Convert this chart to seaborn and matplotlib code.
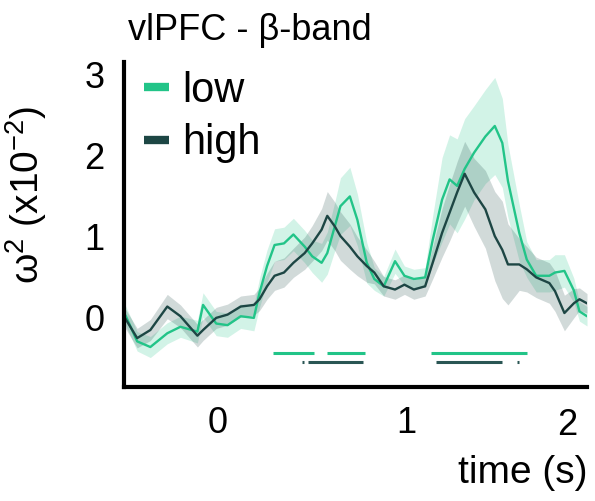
import numpy as np
import pandas as pd
import matplotlib
matplotlib.use("Agg")
import matplotlib.pyplot as plt
import seaborn as sns
from matplotlib.lines import Line2D

# ---- data ----
time = [-0.50, -0.49, -0.43, -0.36, -0.27, -0.20, -0.11, -0.08, -0.01, 0.05,
        0.12, 0.19, 0.22, 0.26, 0.30, 0.35, 0.40, 0.46, 0.50, 0.55,
        0.58, 0.62, 0.65, 0.70, 0.74, 0.79, 0.83, 0.88, 0.94, 0.99,
        1.04, 1.10, 1.14, 1.19, 1.23, 1.27, 1.31, 1.36, 1.42, 1.47,
        1.51, 1.54, 1.60, 1.64, 1.69, 1.76, 1.79, 1.84, 1.89, 1.92, 1.96]

low_mean = [0.06, 0.02, -0.29, -0.36, -0.19, -0.11, -0.17, 0.16, -0.07, -0.09,
            0.02, 0.00, 0.31, 0.64, 0.90, 0.92, 1.03, 0.88, 0.76, 0.68,
            0.80, 1.13, 1.38, 1.50, 1.21, 0.68, 0.48, 0.39, 0.70, 0.52,
            0.48, 0.50, 0.96, 1.46, 1.71, 1.63, 1.84, 2.04, 2.24, 2.37,
            2.16, 1.69, 1.05, 0.72, 0.52, 0.52, 0.56, 0.58, 0.34, 0.08, 0.02]

high_mean = [0.02, -0.02, -0.25, -0.15, 0.14, 0.02, -0.22, -0.15, 0.00, 0.04,
             0.14, 0.16, 0.23, 0.39, 0.52, 0.56, 0.68, 0.80, 0.92, 1.09,
             1.26, 1.13, 1.01, 0.88, 0.76, 0.64, 0.56, 0.39, 0.35, 0.41,
             0.35, 0.39, 0.68, 1.05, 1.30, 1.55, 1.78, 1.55, 1.34, 1.01,
             0.84, 0.66, 0.66, 0.60, 0.50, 0.43, 0.33, 0.06, 0.18, 0.23, 0.18]

low_err = [0.12, 0.12, 0.12, 0.13, 0.13, 0.13, 0.14, 0.15, 0.15, 0.15,
           0.15, 0.16, 0.18, 0.20, 0.20, 0.20, 0.20, 0.20, 0.20, 0.24,
           0.26, 0.30, 0.35, 0.36, 0.32, 0.25, 0.14, 0.12, 0.15, 0.12,
           0.12, 0.12, 0.30, 0.52, 0.55, 0.58, 0.62, 0.58, 0.58, 0.60,
           0.55, 0.45, 0.35, 0.22, 0.20, 0.20, 0.22, 0.20, 0.15, 0.12, 0.12]

high_err = [0.12, 0.12, 0.12, 0.13, 0.15, 0.14, 0.14, 0.13, 0.13, 0.13,
            0.13, 0.13, 0.14, 0.16, 0.18, 0.18, 0.18, 0.20, 0.22, 0.26,
            0.30, 0.30, 0.30, 0.28, 0.24, 0.20, 0.14, 0.12, 0.12, 0.12,
            0.12, 0.12, 0.20, 0.30, 0.35, 0.38, 0.40, 0.42, 0.48, 0.55,
            0.60, 0.50, 0.32, 0.28, 0.25, 0.25, 0.25, 0.22, 0.18, 0.14, 0.12]

# significance segments (start, end) in seconds
low_sig = [(0.29, 0.51), (0.58, 0.78), (1.13, 1.64)]
high_sig = [(0.445, 0.455), (0.48, 0.77), (1.16, 1.51), (1.59, 1.60)]
low_sig_y = -0.435
high_sig_y = -0.54

groups = ["low", "high"]
colors = {"low": "#22c488", "high": "#1d4644"}

# ---- style ----
sns.set_theme(style="white")
plt.rcParams["font.family"] = ["Liberation Sans", "DejaVu Sans"]
plt.rcParams["mathtext.fontset"] = "custom"
plt.rcParams["mathtext.rm"] = "Liberation Sans"
plt.rcParams["mathtext.it"] = "Liberation Sans"
plt.rcParams["text.color"] = "black"
plt.rcParams["axes.labelcolor"] = "black"

df = pd.DataFrame({
    "time": time * 2,
    "value": low_mean + high_mean,
    "group": ["low"] * len(time) + ["high"] * len(time),
})

fig = plt.figure(figsize=(5.95, 5.01), dpi=100)
ax = fig.add_axes([124 / 595, 1 - 386.7 / 501, (587 - 124) / 595, (386.7 - 62) / 501])

t = np.array(time)
for g, m, e in [("low", low_mean, low_err), ("high", high_mean, high_err)]:
    m = np.array(m)
    e = np.array(e)
    ax.fill_between(t, m - e, m + e, color=colors[g], alpha=0.2, linewidth=0)

sns.lineplot(data=df, x="time", y="value", hue="group", hue_order=groups,
             palette=colors, linewidth=1.7, ax=ax, legend=False)

for s, e in low_sig:
    ax.hlines(low_sig_y, s, e, color=colors["low"], linewidth=2.2)
for s, e in high_sig:
    ax.hlines(high_sig_y, s, e, color="#2a5654", linewidth=2.2)

ax.set_xlim(-0.5, 1.96)
ax.set_ylim(-0.85, 3.16)

ax.set_xticks([0, 0.5, 1, 1.5])
ax.set_xticklabels(["0", "", "1", ""])
ax.text(1.855, -0.118, "2", transform=ax.get_xaxis_transform(),
        ha="center", va="center", fontsize=26, color="black")
ax.set_yticks([-0.5, 0, 0.5, 1, 1.5, 2, 2.5, 3])
ax.set_yticklabels(["", "0", "", "1", "", "2", "", "3"])
ax.tick_params(axis="both", direction="in", length=4, width=0.8,
               color="#cccccc", labelsize=26, labelcolor="black")
ax.tick_params(axis="x", pad=14)
ax.tick_params(axis="y", pad=14)

for side in ["top", "right"]:
    ax.spines[side].set_visible(False)
for side in ["left", "bottom"]:
    ax.spines[side].set_color("black")
    ax.spines[side].set_linewidth(3)

ax.set_xlabel("")
ax.set_ylabel("")

handles = [Line2D([0], [0], color=colors[g], linewidth=6, solid_capstyle="butt")
           for g in groups]
ax.legend(handles, groups, loc="upper left", bbox_to_anchor=(-0.01, 1.05),
          frameon=False, fontsize=30, handlelength=0.6, handletextpad=0.3,
          labelspacing=0.3, borderaxespad=0.2)

fig.text(128 / 595, 1 - 40 / 501, "vlPFC - β-band", ha="left",
         va="baseline", fontsize=26)
fig.text(588 / 595, 1 - 473 / 501, "time (s)", ha="right", va="center",
         fontsize=28)
fig.text(26 / 595, 1 - 195 / 501, r"$\mathregular{\omega^2}$ (x10$^{\mathregular{-2}}$)",
         rotation=90, ha="center", va="center", fontsize=28)

fig.savefig("out.png", dpi=100)
